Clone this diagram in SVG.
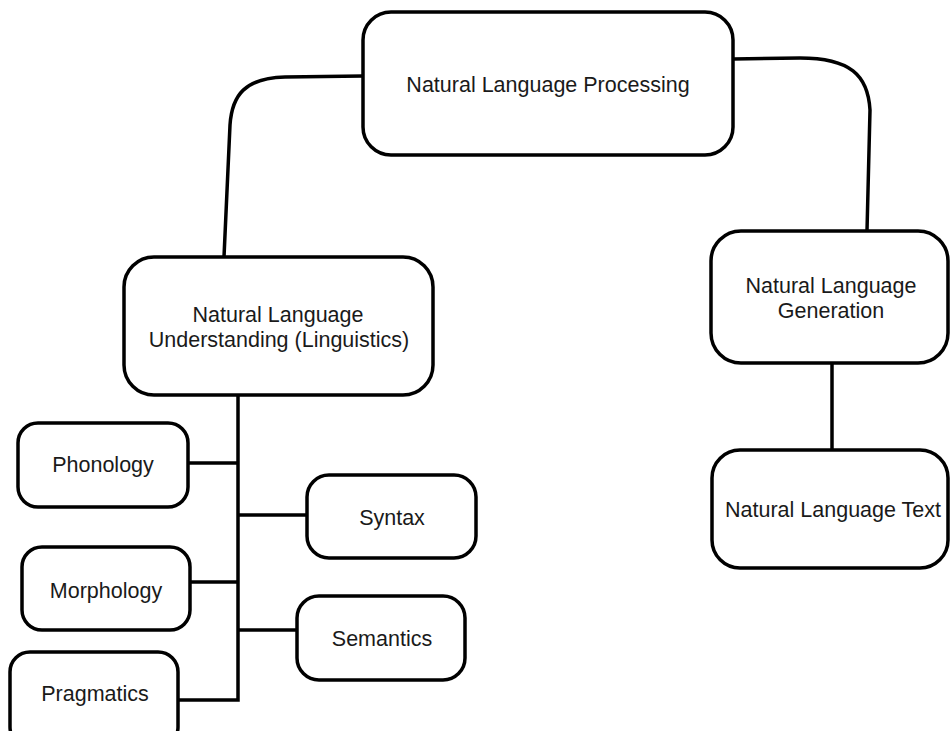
<svg xmlns="http://www.w3.org/2000/svg" width="950" height="731" viewBox="0 0 950 731">
  <style>
    .box { fill: #ffffff; stroke: #000000; stroke-width: 3.5; }
    .link { fill: none; stroke: #000000; stroke-width: 3.5; }
    .label { font-family: "Liberation Sans", Arial, sans-serif; font-size: 21.5px; fill: #1a1a1a; text-anchor: middle; }
  </style>
  <rect width="950" height="731" fill="#ffffff"/>

  <!-- connectors -->
  <g id="connectors">
    <path class="link" d="M363,76 L285,77 C245,78 232,95 230,125 L224,257"/>
    <path class="link" d="M733,59 L800,58 C850,58 868,75 870,110 L867,231"/>
    <path class="link" d="M238,395 V700 H178"/>
    <path class="link" d="M188,463 H238"/>
    <path class="link" d="M238,515 H307"/>
    <path class="link" d="M190,582 H238"/>
    <path class="link" d="M238,630 H297"/>
    <path class="link" d="M832,363 V450"/>
  </g>

  <!-- nodes -->
  <g id="nlp">
    <rect class="box" x="363" y="12" width="370" height="143" rx="28"/>
    <text class="label" x="548" y="92">Natural Language Processing</text>
  </g>
  <g id="nlu">
    <rect class="box" x="124" y="257" width="309" height="138" rx="30"/>
    <text class="label" x="278" y="322">Natural Language</text>
    <text class="label" x="279" y="347">Understanding (Linguistics)</text>
  </g>
  <g id="nlg">
    <rect class="box" x="711" y="231" width="237" height="132" rx="30"/>
    <text class="label" x="831" y="293">Natural Language</text>
    <text class="label" x="831" y="318">Generation</text>
  </g>
  <g id="nl-text">
    <rect class="box" x="712" y="450" width="236" height="118" rx="28"/>
    <text class="label" x="833" y="517">Natural Language Text</text>
  </g>
  <g id="phonology">
    <rect class="box" x="18" y="423" width="170" height="84" rx="20"/>
    <text class="label" x="103" y="472">Phonology</text>
  </g>
  <g id="syntax">
    <rect class="box" x="307" y="475" width="169" height="83" rx="22"/>
    <text class="label" x="392" y="525">Syntax</text>
  </g>
  <g id="morphology">
    <rect class="box" x="22" y="547" width="168" height="83" rx="20"/>
    <text class="label" x="106" y="598">Morphology</text>
  </g>
  <g id="semantics">
    <rect class="box" x="297" y="596" width="168" height="84" rx="22"/>
    <text class="label" x="382" y="646">Semantics</text>
  </g>
  <g id="pragmatics">
    <rect class="box" x="10" y="652" width="168" height="95" rx="20"/>
    <text class="label" x="95" y="701">Pragmatics</text>
  </g>
</svg>
